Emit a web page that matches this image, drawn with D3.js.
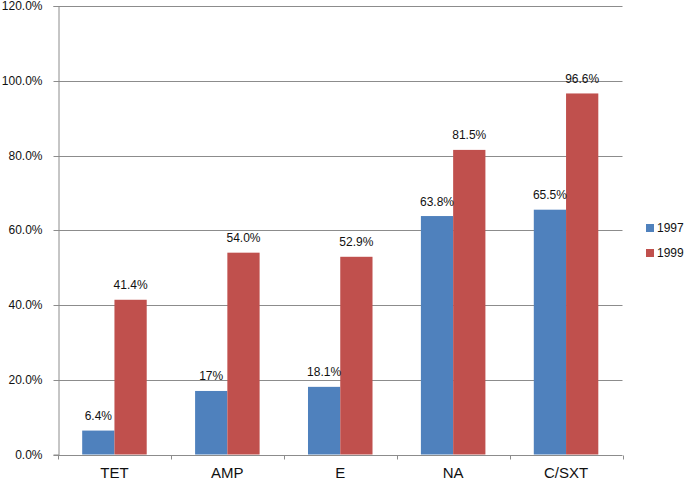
<!DOCTYPE html>
<html><head><meta charset="utf-8">
<script src="https://cdn.jsdelivr.net/npm/d3@7"></script>
<style>body{margin:0;background:#fff}svg{display:block}text{font-family:"Liberation Sans",Arial,Helvetica,sans-serif;fill:#111}</style>
</head><body><svg id="c" width="685" height="481"></svg>
<script>
const categories = ["TET","AMP","E","NA","C/SXT"];
const seriesNames = ["1997","1999"];
const values1997 = [6.4,17,18.1,63.8,65.5];
const values1999 = [41.4,54.0,52.9,81.5,96.6];
const labels1997 = ["6.4%","17%","18.1%","63.8%","65.5%"];
const labels1999 = ["41.4%","54.0%","52.9%","81.5%","96.6%"];
const yTicks = [0,20,40,60,80,100,120];
const colors = ["#4F81BD","#C0504D"];

const svg = d3.select("#c");
const L=58, R=622.5, T=6, B=454.5;
const y = d3.scaleLinear().domain([0,120]).range([B,T]);
const x0 = d3.scaleBand().domain(categories).range([L,R]).padding(0);
const x1 = d3.scaleBand().domain(seriesNames).range([0,x0.bandwidth()]).paddingInner(0).paddingOuter(0.75);

// gridlines
svg.append("g").selectAll("line").data(yTicks.filter(d=>d>0)).join("line")
  .attr("x1",L).attr("x2",R).attr("y1",d=>Math.round(y(d))+0.5).attr("y2",d=>Math.round(y(d))+0.5)
  .attr("stroke","#8c8c8c").attr("stroke-width",1);

// y axis
const ya = svg.append("g").attr("transform",`translate(${L+0.5},0)`)
  .call(d3.axisLeft(y).tickValues(yTicks).tickSize(5).tickPadding(11).tickFormat(d=>d.toFixed(1)+"%"));
ya.select(".domain").attr("stroke","#8c8c8c");
ya.selectAll(".tick line").attr("stroke","#8c8c8c");
ya.selectAll(".tick").attr("transform",d=>`translate(0,${Math.round(y(d))+0.5})`);
ya.selectAll("text").attr("font-size",12).attr("fill","#111").attr("font-family",null);

// bars
const data = categories.map((c,i)=>({c, vals:[{s:"1997",v:values1997[i],l:labels1997[i]},{s:"1999",v:values1999[i],l:labels1999[i]}]}));
const g = svg.append("g").selectAll("g").data(data).join("g").attr("transform",d=>`translate(${x0(d.c)},0)`);
g.selectAll("rect").data(d=>d.vals).join("rect")
  .attr("x",d=>x1(d.s)).attr("width",x1.bandwidth())
  .attr("y",d=>y(d.v)).attr("height",d=>B-y(d.v))
  .attr("fill",(d,i)=>colors[i]);
g.selectAll("text").data(d=>d.vals).join("text")
  .attr("x",d=>x1(d.s)+x1.bandwidth()/2).attr("y",d=>y(d.v)-10.5)
  .attr("text-anchor","middle").attr("font-size",12).text(d=>d.l);

// x axis
const xa = svg.append("g").attr("transform",`translate(0,${Math.round(B)+0.5})`);
xa.append("line").attr("x1",L).attr("x2",R).attr("stroke","#8c8c8c");
const bounds = categories.map(c=>x0(c)).concat([R]);
xa.selectAll("line.t").data(bounds).join("line").attr("class","t")
  .attr("x1",d=>Math.round(d)+0.5).attr("x2",d=>Math.round(d)+0.5).attr("y1",0).attr("y2",4).attr("stroke","#8c8c8c");
xa.selectAll("text").data(categories).join("text")
  .attr("x",d=>x0(d)+x0.bandwidth()/2).attr("y",22.5)
  .attr("text-anchor","middle").attr("font-size",15).text(d=>d);

// legend
const lg = svg.append("g").selectAll("g").data(seriesNames).join("g")
  .attr("transform",(d,i)=>`translate(646,${228+i*25})`);
lg.append("rect").attr("x",0).attr("y",-4).attr("width",8).attr("height",8).attr("fill",(d,i)=>colors[i]);
lg.append("text").attr("x",11).attr("y",0).attr("dy","0.35em").attr("font-size",12).text(d=>d);
</script></body></html>
